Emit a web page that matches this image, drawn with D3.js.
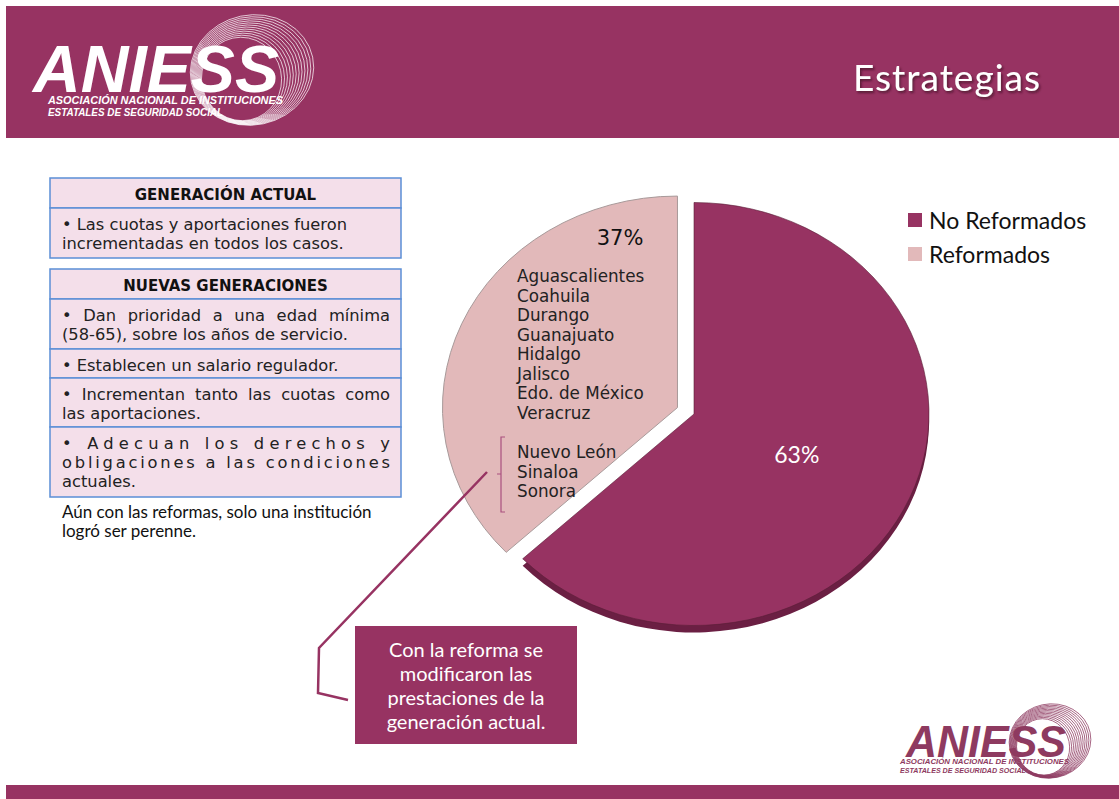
<!doctype html>
<html lang="es">
<head>
<meta charset="UTF-8">
<title>Estrategias</title>
<script src="https://d3js.org/d3.v7.min.js"></script>
<style>
  body { margin: 0; background: #fff; }
  text { font-kerning: normal; }
</style>
</head>
<body>
<div id="chart"></div>
<script>
  // data
  const categories = ['No Reformados', 'Reformados'];
  const values = [63, 37];
  const pctLabels = ['63%', '37%'];
  const reformedStates = ['Aguascalientes', 'Coahuila', 'Durango', 'Guanajuato',
    'Hidalgo', 'Jalisco', 'Edo. de México', 'Veracruz'];
  const perenneStates = ['Nuevo León', 'Sinaloa', 'Sonora'];

  const actualTitle = 'GENERACIÓN ACTUAL';
  const actualRows = [
    [['• Las cuotas y aportaciones fueron', 'left'], ['incrementadas en todos los casos.', 'left']]
  ];
  const nuevasTitle = 'NUEVAS GENERACIONES';
  const nuevasRows = [
    [['• Dan prioridad a una edad mínima', 'words'], ['(58-65), sobre los años de servicio.', 'left']],
    [['• Establecen un salario regulador.', 'left']],
    [['• Incrementan tanto las cuotas como', 'words'], ['las aportaciones.', 'left']],
    [['• Adecuan los derechos y', 'letters'], ['obligaciones a las condiciones', 'letters'], ['actuales.', 'left']]
  ];
  const noteLines = ['Aún con las reformas, solo una institución', 'logró ser perenne.'];
  const calloutLines = ['Con la reforma se', 'modificaron las', 'prestaciones de la', 'generación actual.'];
  const pageTitle = 'Estrategias';

  const W = 1119, H = 799;
  const purple = '#973362';
  const pink = '#e2b9ba';
  const cellFill = '#f4dfea';
  const cellLine = '#5b8ed6';
  const gothic = '"DejaVu Sans", sans-serif';
  const calibri = 'Lato, sans-serif';
  const cellFont = 16.3;

  const svg = d3.select('#chart').append('svg')
      .attr('width', W)
      .attr('height', H);

  const defs = svg.append('defs');
  defs.append('filter').attr('id', 'shadow')
      .append('feDropShadow')
      .attr('dx', 1.5).attr('dy', 2).attr('stdDeviation', 1.2)
      .attr('flood-color', '#3a0a20').attr('flood-opacity', 0.7);

  // header and footer bands
  svg.append('rect').attr('x', 6).attr('y', 6).attr('width', W - 6).attr('height', 132).attr('fill', purple);
  svg.append('rect').attr('x', 6).attr('y', 785).attr('width', W - 6).attr('height', 14).attr('fill', purple);

  svg.append('text')
      .attr('x', 853).attr('y', 91)
      .attr('font-family', calibri).attr('font-size', 37)
      .attr('letter-spacing', 1)
      .attr('fill', '#fff')
      .attr('filter', 'url(#shadow)')
      .text(pageTitle);

  // logo
  function drawLogo(o) {
    const g = svg.append('g');
    const rings = g.append('g')
        .attr('transform', `translate(${o.rcx},${o.rcy}) rotate(-12)`);
    d3.range(12).forEach(i => {
      rings.append('ellipse')
          .attr('cx', -i * o.k * 1.1).attr('cy', i * o.k * 0.6)
          .attr('rx', o.rx - i * o.k * 2).attr('ry', o.ry - i * o.k * 1.2)
          .attr('fill', 'none')
          .attr('stroke', o.ringColor)
          .attr('stroke-width', 0.9);
    });
    g.append('text')
        .attr('x', o.x).attr('y', o.y)
        .attr('font-family', '"Liberation Sans", Arial, sans-serif')
        .attr('font-weight', 'bold').attr('font-style', 'italic')
        .attr('font-size', o.size)
        .attr('textLength', o.w).attr('lengthAdjust', 'spacingAndGlyphs')
        .attr('fill', o.color)
        .text('ANIESS');
    ['ASOCIACIÓN NACIONAL DE INSTITUCIONES', 'ESTATALES DE SEGURIDAD SOCIAL'].forEach((t, i) => {
      g.append('text')
          .attr('x', o.sx).attr('y', o.sy + i * o.sdy)
          .attr('font-family', '"Liberation Sans", Arial, sans-serif')
          .attr('font-weight', 'bold').attr('font-style', 'italic')
          .attr('font-size', o.ssize)
          .attr('textLength', i === 0 ? o.sw : o.sw * 0.745).attr('lengthAdjust', 'spacingAndGlyphs')
          .attr('fill', o.color)
          .text(t);
    });
  }

  drawLogo({ x: 33, y: 92, size: 67, w: 246, color: '#fff',
    sx: 48, sy: 104, sdy: 12, ssize: 11.5, sw: 235,
    rcx: 252, rcy: 70, rx: 62, ry: 55, k: 1, ringColor: 'rgba(255,255,255,0.75)' });

  drawLogo({ x: 906, y: 757, size: 45, w: 160, color: '#8e3a60',
    sx: 900, sy: 764, sdy: 9, ssize: 7.6, sw: 169,
    rcx: 1050, rcy: 741, rx: 41, ry: 37, k: 0.66, ringColor: 'rgba(142,58,96,0.8)' });

  // tables
  const tx0 = 50, tx1 = 401, padL = 62, padR = 390;

  function justifyWords(sel, str, y) {
    const words = str.split(' ');
    const t = sel.append('text').attr('y', y)
        .attr('font-family', gothic).attr('font-size', cellFont).attr('fill', '#222');
    const spans = words.map(w => t.append('tspan').text(w));
    const widths = spans.map(s => s.node().getComputedTextLength());
    const gap = (padR - padL - d3.sum(widths)) / (words.length - 1);
    let x = padL;
    spans.forEach((s, i) => { s.attr('x', x); x += widths[i] + gap; });
  }

  function drawTable(top, title, rows, heights) {
    const g = svg.append('g');
    let y = top;
    const bands = [[title, 30]].concat(rows.map((r, i) => [r, heights[i]]));
    bands.forEach(([content, h], i) => {
      g.append('rect')
          .attr('x', tx0).attr('y', y).attr('width', tx1 - tx0).attr('height', h)
          .attr('fill', cellFill).attr('stroke', cellLine).attr('stroke-width', 1.5);
      if (i === 0) {
        g.append('text')
            .attr('x', (tx0 + tx1) / 2).attr('y', y + 22)
            .attr('text-anchor', 'middle')
            .attr('font-family', gothic).attr('font-weight', 'bold').attr('font-size', 15)
            .attr('fill', '#111')
            .text(content);
      } else {
        content.forEach(([line, mode], j) => {
          const ly = y + 22 + j * 19;
          if (mode === 'words') {
            justifyWords(g, line, ly);
          } else {
            const t = g.append('text')
                .attr('x', padL).attr('y', ly)
                .attr('font-family', gothic).attr('font-size', cellFont).attr('fill', '#222')
                .text(line);
            if (mode === 'letters') t.attr('textLength', padR - padL).attr('lengthAdjust', 'spacing');
          }
        });
      }
      y += h;
    });
  }

  drawTable(178, actualTitle, actualRows, [50]);
  drawTable(269, nuevasTitle, nuevasRows, [50, 29, 49, 70]);

  svg.selectAll('.note')
      .data(noteLines)
      .join('text')
      .attr('class', 'note')
      .attr('x', 62).attr('y', (d, i) => 518 + i * 19)
      .attr('font-family', calibri).attr('font-size', 17)
      .attr('fill', '#111')
      .text(d => d);

  // pie
  const cx = 694, cy = 414, R = 235, squash = 0.9;
  const color = d3.scaleOrdinal().domain(categories).range([purple, pink]);
  const pie = d3.pie().sort(null).value(d => d.value);
  const arcs = pie(categories.map((c, i) => ({ name: c, value: values[i] })));
  const arc = d3.arc().innerRadius(0).outerRadius(R);
  const explode = [0, 18];

  const pieG = svg.append('g').attr('transform', `translate(${cx},${cy})`);

  // 3d rim under the dark slice
  pieG.append('path')
      .datum(arcs[0])
      .attr('transform', `translate(0,7) scale(1,${squash})`)
      .attr('d', arc)
      .attr('fill', '#6b1f43');

  pieG.selectAll('.slice')
      .data(arcs)
      .join('path')
      .attr('class', 'slice')
      .attr('transform', (d, i) => {
        const mid = (d.startAngle + d.endAngle) / 2;
        const dx = Math.sin(mid) * explode[i];
        const dy = -Math.cos(mid) * explode[i] * squash;
        return `translate(${dx},${dy}) scale(1,${squash})`;
      })
      .attr('d', arc)
      .attr('fill', d => color(d.data.name))
      .attr('stroke', (d, i) => i === 0 ? 'rgba(90,30,55,0.6)' : '#a89a9a')
      .attr('stroke-width', 1)
      .attr('vector-effect', 'non-scaling-stroke');

  // 63% label at slice centroid
  const labelArc = d3.arc().innerRadius(112).outerRadius(112);
  const c0 = labelArc.centroid(arcs[0]);
  pieG.append('text')
      .attr('x', c0[0]).attr('y', c0[1] * squash + 9)
      .attr('text-anchor', 'middle')
      .attr('font-family', calibri).attr('font-size', 23)
      .attr('fill', '#fff')
      .text(pctLabels[0]);

  // 37% block inside the light slice
  svg.append('text')
      .attr('x', 620).attr('y', 245)
      .attr('text-anchor', 'middle')
      .attr('font-family', gothic).attr('font-size', 21)
      .attr('fill', '#111')
      .text(pctLabels[1]);

  svg.selectAll('.state')
      .data(reformedStates)
      .join('text')
      .attr('class', 'state')
      .attr('x', 517).attr('y', (d, i) => 282 + i * 19.5)
      .attr('font-family', gothic).attr('font-size', 16.8)
      .attr('fill', '#222')
      .text(d => d);

  svg.selectAll('.perenne')
      .data(perenneStates)
      .join('text')
      .attr('class', 'perenne')
      .attr('x', 517).attr('y', (d, i) => 458 + i * 19.5)
      .attr('font-family', gothic).attr('font-size', 16.8)
      .attr('fill', '#222')
      .text(d => d);

  // bracket + connector
  svg.append('path')
      .attr('d', 'M505,437 H501 V512 H505 M501,474 H497')
      .attr('fill', 'none').attr('stroke', '#a9507f').attr('stroke-width', 1.2);

  svg.append('path')
      .attr('d', 'M487,472 L319,648 L318,693 L348,700')
      .attr('fill', 'none').attr('stroke', purple).attr('stroke-width', 2.5);

  // callout
  svg.append('rect')
      .attr('x', 355).attr('y', 626).attr('width', 222).attr('height', 118)
      .attr('fill', purple);
  svg.selectAll('.callout')
      .data(calloutLines)
      .join('text')
      .attr('class', 'callout')
      .attr('x', 466).attr('y', (d, i) => 657 + i * 24)
      .attr('text-anchor', 'middle')
      .attr('font-family', calibri).attr('font-size', 20)
      .attr('fill', '#fff')
      .text(d => d);

  // legend
  const legend = svg.append('g').attr('transform', 'translate(908,213)');
  const li = legend.selectAll('g')
      .data(categories)
      .join('g')
      .attr('transform', (d, i) => `translate(0,${i * 34})`);
  li.append('rect')
      .attr('width', 14).attr('height', 14)
      .attr('fill', d => color(d));
  li.append('text')
      .attr('x', 21).attr('y', 16)
      .attr('font-family', calibri).attr('font-size', 23)
      .attr('fill', '#111')
      .text(d => d);
</script>
</body>
</html>
